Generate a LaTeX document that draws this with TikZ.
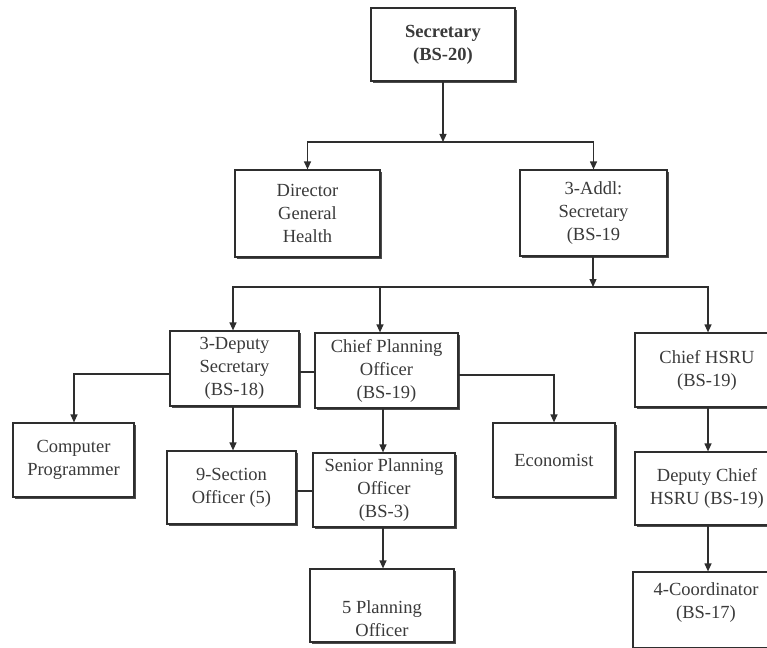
\documentclass[tikz,border=0pt]{standalone}
\usepackage{fontspec}
\setmainfont{Liberation Serif}
\usetikzlibrary{arrows.meta,shadows}
\definecolor{edge}{HTML}{2E2E2E}
\definecolor{txt}{HTML}{3A3A3A}
\newcommand{\shifted}[2]{\raisebox{#1}[0pt][0pt]{\begin{tabular}{@{}c@{}}#2\end{tabular}}}
\tikzset{
  box/.style={draw=edge, line width=1.2pt, fill=white, align=center, text=txt,
    font=\fontsize{18.5}{23}\selectfont, inner sep=2pt,
    drop shadow={shadow xshift=1.8pt, shadow yshift=-1.8pt, fill=black!70, opacity=1}},
  link/.style={draw=edge, line width=1.2pt},
  arr/.style={link, -{Triangle[length=8pt,width=7pt]}},
}
\begin{document}
\begin{tikzpicture}[x=1pt,y=-1pt]
\useasboundingbox (0,0) rectangle (767,647);
\clip (0,0) rectangle (767,647);
\node[box, minimum width=144pt, minimum height=73pt] (sec) at (443,44.5) {\textbf{Secretary}\\\textbf{(BS-20)}};
\node[box, minimum width=145pt, minimum height=87pt] (dg) at (307.5,213.5) {Director\\General\\Health};
\node[box, minimum width=147pt, minimum height=86pt] (addl) at (593.5,213) {3-Addl:\\Secretary\\(BS-19};
\node[box, minimum width=129pt, minimum height=75pt] (dep) at (234.5,368.5) {3-Deputy\\Secretary\\(BS-18)};
\node[box, minimum width=143pt, minimum height=75pt] (cpo) at (386.5,370.5) {Chief Planning\\Officer\\(BS-19)};
\node[box, minimum width=144pt, minimum height=74pt] (hsru) at (707,370) {Chief HSRU\\(BS-19)};
\node[box, minimum width=121pt, minimum height=74pt] (cp) at (73.5,460) {Computer\\Programmer};
\node[box, minimum width=129pt, minimum height=73pt] (sec9) at (231.5,487.5) {9-Section\\Officer (5)};
\node[box, minimum width=142pt, minimum height=74pt] (spo) at (384,490) {Senior Planning\\Officer\\(BS-3)};
\node[box, minimum width=122pt, minimum height=74pt] (eco) at (554,460) {Economist};
\node[box, minimum width=144pt, minimum height=73pt] (dch) at (707,488.5) {Deputy Chief\\HSRU (BS-19)};
\node[box, minimum width=144pt, minimum height=73pt] (pl5) at (382,605.5) {\shifted{-19pt}{5 Planning\\Officer}};
\node[box, minimum width=146pt, minimum height=76pt] (coord) at (706,610) {\shifted{3pt}{4-Coordinator\\(BS-17)}};
% level 1
\coordinate (j1) at (443,142);
\draw[arr] (sec.south) -- (j1);
\draw[arr] (j1) -| (dg.north);
\draw[arr] (j1) -| (addl.north);
% level 2
\coordinate (j2) at (593,287);
\draw[arr] (addl.south -| j2) -- (j2);
\draw[arr] (j2) -| (233,0 |- dep.north);
\draw[arr] (j2) -| (380,0 |- cpo.north);
\draw[arr] (j2) -| (708,0 |- hsru.north);
% deputy / chief planning
\draw[link] (dep.east |- 0,372) -- (cpo.west |- 0,372);
\draw[arr] (dep.west |- 0,374) -| (74,0 |- cp.north);
\draw[arr] (cpo.east |- 0,375) -| (eco.north);
\draw[arr] (233,0 |- dep.south) -- (233,0 |- sec9.north);
\draw[arr] (383,0 |- cpo.south) -- (383,0 |- spo.north);
\draw[link] (sec9.east |- 0,491) -- (spo.west |- 0,491);
\draw[arr] (383,0 |- spo.south) -- (383,0 |- pl5.north);
% HSRU chain
\draw[arr] (708,0 |- hsru.south) -- (708,0 |- dch.north);
\draw[arr] (708,0 |- dch.south) -- (708,0 |- coord.north);
\end{tikzpicture}
\end{document}
